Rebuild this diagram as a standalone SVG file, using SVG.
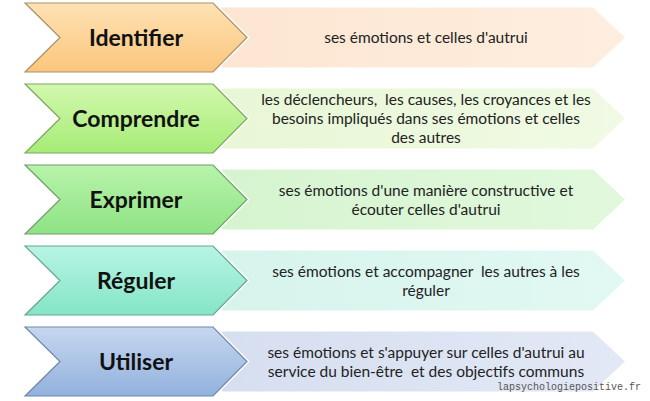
<svg xmlns="http://www.w3.org/2000/svg" width="650" height="401" viewBox="0 0 650 401">
<style>
.chev{stroke-width:1.2;stroke-linejoin:miter}
.halo{fill:none;stroke:#ffffff;stroke-width:4}
.head{font-family:Lato,"Open Sans","Liberation Sans",sans-serif;font-weight:bold;font-size:23px;fill:#111;text-anchor:middle}
.body{font-family:Lato,"Open Sans","Liberation Sans",sans-serif;font-size:15.5px;fill:#222;text-anchor:middle}
.wm{font-family:"Liberation Mono","DejaVu Sans Mono",monospace;font-size:10px;fill:#555}
</style>
<defs>
<linearGradient id="g1" x1="0" y1="0" x2="0" y2="1"><stop offset="0" stop-color="#fee2b4"/><stop offset="1" stop-color="#fbc67c"/></linearGradient>
<linearGradient id="g2" x1="0" y1="0" x2="0" y2="1"><stop offset="0" stop-color="#d2f8ae"/><stop offset="1" stop-color="#a6ec76"/></linearGradient>
<linearGradient id="g3" x1="0" y1="0" x2="0" y2="1"><stop offset="0" stop-color="#b8f3aa"/><stop offset="1" stop-color="#8ee384"/></linearGradient>
<linearGradient id="g4" x1="0" y1="0" x2="0" y2="1"><stop offset="0" stop-color="#b8f4e4"/><stop offset="1" stop-color="#84e5c6"/></linearGradient>
<linearGradient id="g5" x1="0" y1="0" x2="0" y2="1"><stop offset="0" stop-color="#c6d7ef"/><stop offset="1" stop-color="#92b1dd"/></linearGradient>
<linearGradient id="b1" x1="0" y1="0" x2="1" y2="0"><stop offset="0" stop-color="#fce6d2"/><stop offset="1" stop-color="#feeedf"/></linearGradient>
<linearGradient id="b2" x1="0" y1="0" x2="1" y2="0"><stop offset="0" stop-color="#e8f7d6"/><stop offset="1" stop-color="#f0fae4"/></linearGradient>
<linearGradient id="b3" x1="0" y1="0" x2="1" y2="0"><stop offset="0" stop-color="#d6f4d0"/><stop offset="1" stop-color="#e1f8dc"/></linearGradient>
<linearGradient id="b4" x1="0" y1="0" x2="1" y2="0"><stop offset="0" stop-color="#d6f4ec"/><stop offset="1" stop-color="#e2f8f3"/></linearGradient>
<linearGradient id="b5" x1="0" y1="0" x2="1" y2="0"><stop offset="0" stop-color="#d6dff0"/><stop offset="1" stop-color="#e2e8f5"/></linearGradient>
<path id="chevShape" d="M25,-34.5 L213,-34.5 L247,0 L213,34.5 L25,34.5 L60,0 Z"/>
<path id="boxShape" d="M222,-30 L593,-30 L625,0 L593,30 L222,30 Z"/>
</defs>
<rect width="650" height="401" fill="#ffffff"/>

<g id="connectors"></g>

<g id="row-identifier" transform="translate(0,37.5)">
<use href="#boxShape" fill="url(#b1)"/>
<use href="#chevShape" class="halo"/>
<use href="#chevShape" class="chev" fill="url(#g1)" stroke="#a8916a"/>
<text class="head" x="136" y="8">Identifier</text>
<text class="body" x="426" y="5">ses émotions et celles d'autrui</text>
</g>

<g id="row-comprendre" transform="translate(0,118.5)">
<use href="#boxShape" fill="url(#b2)"/>
<use href="#chevShape" class="halo"/>
<use href="#chevShape" class="chev" fill="url(#g2)" stroke="#7fa463"/>
<text class="head" x="136" y="8">Comprendre</text>
<text class="body" x="426" y="-14">les déclencheurs,&#160; les causes, les croyances et les</text>
<text class="body" x="426" y="5">besoins impliqués dans ses émotions et celles</text>
<text class="body" x="426" y="24">des autres</text>
</g>

<g id="row-exprimer" transform="translate(0,199.5)">
<use href="#boxShape" fill="url(#b3)"/>
<use href="#chevShape" class="halo"/>
<use href="#chevShape" class="chev" fill="url(#g3)" stroke="#6fa06a"/>
<text class="head" x="136" y="8">Exprimer</text>
<text class="body" x="426" y="-4">ses émotions d'une manière constructive et</text>
<text class="body" x="426" y="15">écouter celles d'autrui</text>
</g>

<g id="row-reguler" transform="translate(0,280.5)">
<use href="#boxShape" fill="url(#b4)"/>
<use href="#chevShape" class="halo"/>
<use href="#chevShape" class="chev" fill="url(#g4)" stroke="#6aa392"/>
<text class="head" x="136" y="8">Réguler</text>
<text class="body" x="426" y="-4">ses émotions et accompagner&#160; les autres à les</text>
<text class="body" x="426" y="15">réguler</text>
</g>

<g id="row-utiliser" transform="translate(0,361.5)">
<use href="#boxShape" fill="url(#b5)"/>
<use href="#chevShape" class="halo"/>
<use href="#chevShape" class="chev" fill="url(#g5)" stroke="#7088a8"/>
<text class="head" x="136" y="8">Utiliser</text>
<text class="body" x="426" y="-4">ses émotions et s'appuyer sur celles d'autrui au</text>
<text class="body" x="426" y="15">service du bien-être&#160; et des objectifs communs</text>
</g>

<text class="wm" x="497" y="390">lapsychologiepositive.fr</text>
</svg>
